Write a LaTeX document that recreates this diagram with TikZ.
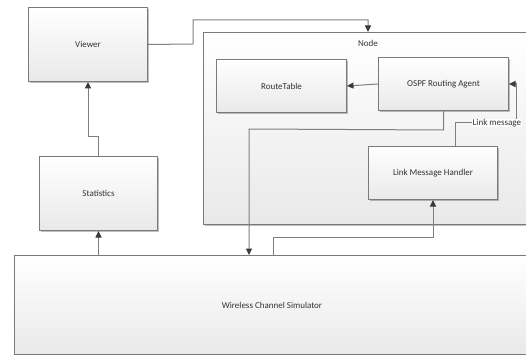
\documentclass[tikz,border=0pt]{standalone}
\usepackage{fontspec}
\setmainfont{Carlito}
\usetikzlibrary{arrows.meta,shadows}
\definecolor{bord}{HTML}{7A7A7A}
\definecolor{boxbot}{HTML}{E9E9E9}
\definecolor{txt}{HTML}{333333}
\definecolor{lin}{HTML}{7F7F7F}
\definecolor{tip}{HTML}{3A3A3A}
\begin{document}
\begin{tikzpicture}[x=1pt,y=-1pt,
  box/.style={draw=bord, line width=1pt, top color=white, bottom color=boxbot,
    drop shadow={shadow xshift=1.2pt, shadow yshift=-1.2pt, opacity=0.25, fill=black},
    anchor=north west, inner sep=0pt, text=txt, font=\fontsize{9}{11}\selectfont},
  conn/.style={draw=lin, line width=1pt},
  arr/.style={conn, -{Triangle[length=6.5pt,width=6pt,color=tip]}},
  lbl/.style={text=txt, font=\fontsize{9}{11}\selectfont, inner sep=0pt}
]
\useasboundingbox (0,0) rectangle (526,355);
\clip (0,0) rectangle (526,355);
\fill[white] (0,0) rectangle (526,355);

\node[box, minimum width=337pt, minimum height=192pt] (nodebox) at (203,32) {};
\node[lbl] (nodelbl) at (368,43) {Node};
\node[box, minimum width=515pt, minimum height=99pt] (wcs) at (14,255) {Wireless Channel Simulator};

\node[box, minimum width=119pt, minimum height=74pt] (viewer) at (28,7) {Viewer};
\node[box, minimum width=118pt, minimum height=74pt] (stats) at (39,156) {Statistics};
\node[box, minimum width=130pt, minimum height=53pt] (rt) at (216,59) {RouteTable};
\node[box, minimum width=130pt, minimum height=53pt] (ospf) at (378,57) {OSPF Routing Agent};
\node[box, minimum width=129pt, minimum height=53pt] (lmh) at (368,146) {Link Message Handler};
\node[lbl, anchor=west, fill=white, inner xsep=0.5pt] (lm) at (472,123) {Link message};

% connectors
\draw[arr] (viewer.east) -- (193,44) -- (193,20) -- (nodelbl.center |- 0,20) -- (nodelbl.center |- nodebox.north);
\draw[arr] (ospf.west) -- (rt.east);
\draw[arr] (ospf.south) -- ++(0,19) -- (249,129) -- (249,255);
\draw[conn] ([xshift=-43pt]lmh.north east) |- (lm.west);
\draw[arr] ([xshift=-5pt]lm.north east) |- (ospf.east);
\draw[arr] ([xshift=259pt]wcs.north west) -- ++(0,-18) -| (lmh.south);
\draw[arr] (wcs.north -| stats.south) -- (stats.south);
\draw[arr] (stats.north) -- ++(0,-19) -| (viewer.south);
\end{tikzpicture}
\end{document}
